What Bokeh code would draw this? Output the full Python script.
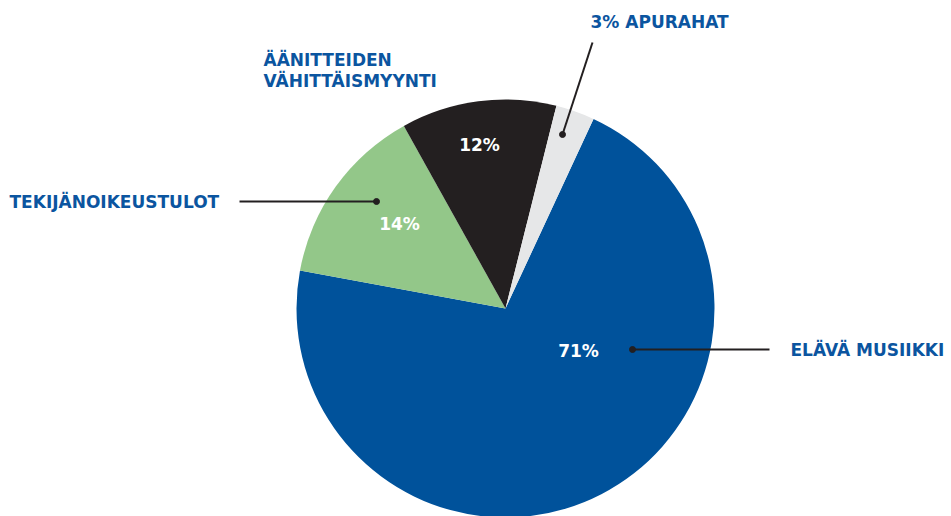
import numpy as np
from bokeh.plotting import figure
from bokeh.models import Range1d, ColumnDataSource
from bokeh.core.properties import value
from bokeh.embed import file_html
from bokeh.resources import INLINE

# ---- data ----
categories = ["ELÄVÄ MUSIIKKI", "TEKIJÄNOIKEUSTULOT", "ÄÄNITTEIDEN VÄHITTÄISMYYNTI", "APURAHAT"]
shares = [71, 14, 12, 3]
colors = ["#00529B", "#93C789", "#231F20", "#E6E7E8"]
pct_labels = ["71%", "14%", "12%", "3%"]

# ---- layout (page pixel coordinates) ----
W, H = 951, 516
def Y(py):
    return H - py

cx, cy, R = 505, Y(308), 209
start_deg = 24.9  # clockwise from top where first slice begins

p = figure(width=W, height=H, x_range=Range1d(0, W), y_range=Range1d(0, H),
           output_backend="svg", toolbar_location=None, min_border=0,
           x_axis_type=None, y_axis_type=None)
p.grid.visible = False
p.outline_line_color = None
p.background_fill_color = "white"
p.border_fill_color = "white"

total = float(sum(shares))
spans = [s / total * 360.0 for s in shares]
theta_start = [start_deg + sum(spans[:i]) for i in range(len(spans))]
theta_end = [t + s for t, s in zip(theta_start, spans)]
src = ColumnDataSource(dict(
    start=[np.radians(90 - t) for t in theta_start],
    end=[np.radians(90 - t) for t in theta_end],
    color=colors, cat=categories, share=shares))
p.wedge(x=cx, y=cy, radius=R, start_angle="start", end_angle="end", direction="clock",
        fill_color="color", line_color=None, source=src)

FONT = value("DejaVu Sans")
BLUE = "#0B55A0"
DARK = "#231F20"

# leader lines and dots
lines_x = [[632, 769], [239, 376], [592, 562]]
lines_y = [[Y(349), Y(349)], [Y(201), Y(201)], [Y(42), Y(134)]]
p.multi_line(xs=lines_x, ys=lines_y, line_color=DARK, line_width=2)
p.scatter(x=[632, 376, 562], y=[Y(349), Y(201), Y(134)], size=6, color=DARK)

# inside percentage labels
p.text(x=[578, 399, 479], y=[Y(350), Y(223), Y(144)], text=pct_labels[:3],
       text_color="white", text_font=FONT, text_font_style="bold", text_font_size="17px",
       text_align="center", text_baseline="middle")

# outside category labels
p.text(x=[790, 9, 590, 263, 263],
       y=[Y(349), Y(201), Y(21), Y(59), Y(80)],
       text=[categories[0], categories[1], pct_labels[3] + " " + categories[3],
             "ÄÄNITTEIDEN", "VÄHITTÄISMYYNTI"],
       text_color=BLUE, text_font=FONT, text_font_style="bold", text_font_size="17px",
       text_align="left", text_baseline="middle")

open("out.html", "w").write(file_html(p, INLINE))
